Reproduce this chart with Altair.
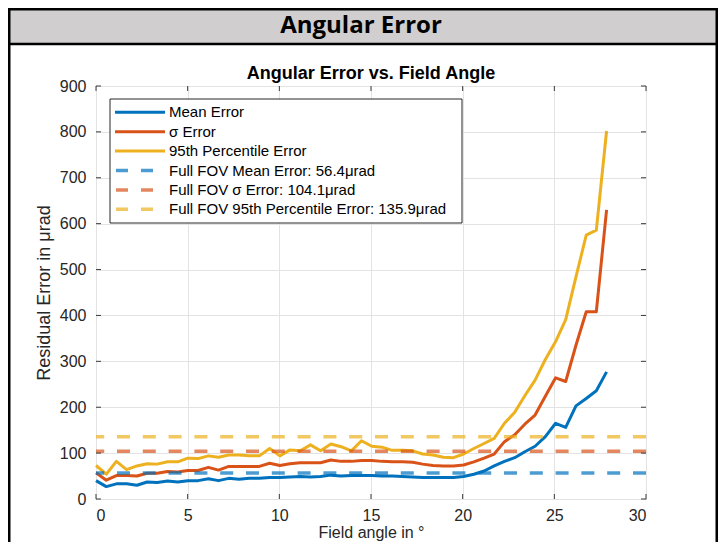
import altair as alt
import pandas as pd

# ---------------- data ----------------
angle = [0.00, 0.56, 1.11, 1.67, 2.23, 2.79, 3.34, 3.90, 4.46, 5.01,
         5.57, 6.13, 6.68, 7.24, 7.80, 8.36, 8.91, 9.47, 10.03, 10.58,
         11.14, 11.70, 12.25, 12.81, 13.37, 13.93, 14.48, 15.04, 15.60, 16.15,
         16.71, 17.27, 17.82, 18.38, 18.94, 19.50, 20.05, 20.61, 21.17, 21.72,
         22.28, 22.84, 23.39, 23.95, 24.51, 25.07, 25.62, 26.18, 26.74, 27.29,
         27.85]

mean_err = [40, 27, 33, 33, 30, 37, 36, 39, 37, 40,
            40, 44, 40, 45, 43, 45, 45, 47, 47, 48,
            49, 48, 49, 52, 50, 51, 51, 51, 50, 50,
            49, 48, 47, 47, 47, 47, 49, 54, 61, 72,
            82, 90, 103, 115, 136, 165, 156, 203, 219, 236,
            277]

sigma_err = [57, 41, 51, 51, 50, 56, 56, 60, 59, 62,
             62, 69, 63, 71, 71, 71, 71, 78, 73, 77,
             79, 79, 79, 85, 82, 82, 84, 84, 82, 81,
             81, 80, 76, 73, 72, 72, 74, 81, 89, 98,
             125, 140, 163, 183, 224, 264, 256, 335, 408, 408,
             630]

p95_err = [73, 54, 82, 64, 72, 77, 76, 81, 81, 89,
           88, 94, 91, 96, 96, 94, 94, 110, 94, 107,
           105, 118, 105, 120, 114, 105, 127, 115, 113, 106,
           106, 105, 98, 96, 91, 90, 98, 110, 121, 132,
           165, 189, 225, 259, 304, 343, 391, 484, 575, 586,
           802]

series_names = ["Mean Error", "σ Error", "95th Percentile Error"]
fov_names = ["Full FOV Mean Error: 56.4μrad",
             "Full FOV σ Error: 104.1μrad",
             "Full FOV 95th Percentile Error: 135.9μrad"]
fov_values = [56.4, 104.1, 135.9]
colors = ["#0072BD", "#D95319", "#EDB120"]

x_ticks = [0, 5, 10, 15, 20, 25, 30]
y_ticks = [0, 100, 200, 300, 400, 500, 600, 700, 800, 900]

header_text = "Angular Error"
chart_title = "Angular Error vs. Field Angle"
x_title = "Field angle in °"
y_title = "Residual Error in μrad"

# ---------------- layout constants ----------------
W, H = 550, 413
PAD_L, PAD_T, PAD_R, PAD_B = 88, 78, 72, 43
AX = "#3a3a3a"
TXT = "#262626"
FONT = "Liberation Sans"
RIGHT_EDGE = W + PAD_R - 1.25
LEFT_EDGE = -PAD_L + 1.25

lines_df = pd.DataFrame({
    "angle": angle * 3,
    "error": mean_err + sigma_err + p95_err,
    "series": [series_names[0]] * len(angle) + [series_names[1]] * len(angle)
              + [series_names[2]] * len(angle),
})
fov_df = pd.DataFrame({"series": fov_names, "error": fov_values})
one = pd.DataFrame({"k": [0]})

x_scale = alt.Scale(domain=[0, 30], nice=False, zero=False)
y_scale = alt.Scale(domain=[0, 900], nice=False, zero=False)
color_scale = alt.Scale(domain=series_names + fov_names, range=colors + colors)

x_axis = alt.Axis(values=x_ticks, title=x_title, grid=True, domain=False,
                  ticks=False, tickSize=0, labelPadding=8,
                  titleX=W / 2, titleY=38, titleAlign="center", titleFontSize=16,
                  titleBaseline="alphabetic", titleAngle=0)
y_axis = alt.Axis(values=y_ticks, title=y_title, grid=True, domain=False,
                  ticks=False, tickSize=0, labelPadding=10,
                  titleX=-52, titleY=H / 2, titleAlign="center",
                  titleBaseline="middle", titleAngle=270)

lines = alt.Chart(lines_df).mark_line(strokeWidth=3, strokeJoin="round").encode(
    x=alt.X("angle:Q", scale=x_scale, axis=x_axis),
    y=alt.Y("error:Q", scale=y_scale, axis=y_axis),
    color=alt.Color("series:N", scale=color_scale, legend=None),
)

fov = alt.Chart(fov_df).mark_rule(strokeWidth=3.5, strokeDash=[13, 12.8],
                                  opacity=0.7).encode(
    y=alt.Y("error:Q", scale=y_scale, axis=y_axis),
    color=alt.Color("series:N", scale=color_scale, legend=None),
)

# inward ticks (MATLAB box style)
xt = pd.DataFrame({"t": x_ticks})
yt = pd.DataFrame({"t": y_ticks})
tb = alt.Chart(xt).mark_rule(color=AX, strokeWidth=1).encode(
    x=alt.X("t:Q", scale=x_scale, axis=x_axis), y=alt.value(H), y2=alt.value(H - 5))
tt = alt.Chart(xt).mark_rule(color=AX, strokeWidth=1).encode(
    x=alt.X("t:Q", scale=x_scale, axis=x_axis), y=alt.value(0), y2=alt.value(5))
tl = alt.Chart(yt).mark_rule(color=AX, strokeWidth=1).encode(
    y=alt.Y("t:Q", scale=y_scale, axis=y_axis), x=alt.value(0), x2=alt.value(5))
tr = alt.Chart(yt).mark_rule(color=AX, strokeWidth=1).encode(
    y=alt.Y("t:Q", scale=y_scale, axis=y_axis), x=alt.value(W), x2=alt.value(W - 5))

# header band and frame
header = alt.Chart(one).mark_rect(fill="#D0CECE", stroke="black", strokeWidth=2.5).encode(
    x=alt.value(LEFT_EDGE), x2=alt.value(RIGHT_EDGE), y=alt.value(-PAD_T + 1.25), y2=alt.value(-42))
left_border = alt.Chart(one).mark_rule(color="black", strokeWidth=2.5).encode(
    x=alt.value(LEFT_EDGE), y=alt.value(-42), y2=alt.value(H + PAD_B))
right_border = alt.Chart(one).mark_rule(color="black", strokeWidth=2.5).encode(
    x=alt.value(RIGHT_EDGE), y=alt.value(-42), y2=alt.value(H + PAD_B))
header_txt = alt.Chart(one).mark_text(text=header_text, font="Open Sans", fontWeight="bold",
                                      fontSize=24, color="black", align="center",
                                      baseline="middle").encode(
    x=alt.value(265), y=alt.value(-60))
title_txt = alt.Chart(one).mark_text(text=chart_title, font=FONT, fontWeight="bold",
                                     fontSize=18, color="black", align="center",
                                     baseline="middle").encode(
    x=alt.value(W / 2), y=alt.value(-12))

# legend (drawn box, MATLAB style)
LX0, LX1, LY0, LY1 = 14, 366, 13, 137
ROW0, ROWSTEP = 26.3, 19.4
legend_layers = [alt.Chart(one).mark_rect(fill="white", stroke="#262626", strokeWidth=1).encode(
    x=alt.value(LX0), x2=alt.value(LX1), y=alt.value(LY0), y2=alt.value(LY1))]
all_labels = series_names + fov_names
for i, lab in enumerate(all_labels):
    ry = ROW0 + i * ROWSTEP
    col = colors[i % 3]
    if i < 3:
        sym = alt.Chart(one).mark_rule(color=col, strokeWidth=3).encode(
            x=alt.value(19), x2=alt.value(69), y=alt.value(ry))
    else:
        sym = alt.Chart(one).mark_rule(color=col, strokeWidth=3.5, opacity=0.7,
                                       strokeDash=[12, 13]).encode(
            x=alt.value(20), x2=alt.value(57), y=alt.value(ry))
    txt = alt.Chart(one).mark_text(text=lab, font=FONT, fontSize=15, color="black",
                                   align="left", baseline="middle").encode(
        x=alt.value(73), y=alt.value(ry))
    legend_layers += [sym, txt]

chart = alt.layer(
    header, left_border, right_border, header_txt,
    lines, fov, tb, tt, tl, tr, title_txt, *legend_layers
).properties(
    width=W, height=H,
    autosize=alt.AutoSizeParams(type="none"),
    padding={"left": PAD_L, "top": PAD_T, "right": PAD_R, "bottom": PAD_B},
    background="white",
).configure_view(
    stroke=AX, strokeWidth=1
).configure_axis(
    gridColor="#E3E3E3", gridWidth=1, gridOpacity=1,
    labelFont=FONT, labelFontSize=16, labelColor=TXT,
    titleFont=FONT, titleFontSize=18, titleColor=TXT, titleFontWeight="normal",
)

chart.save("out.html", embed_options={"renderer": "svg", "actions": False})
